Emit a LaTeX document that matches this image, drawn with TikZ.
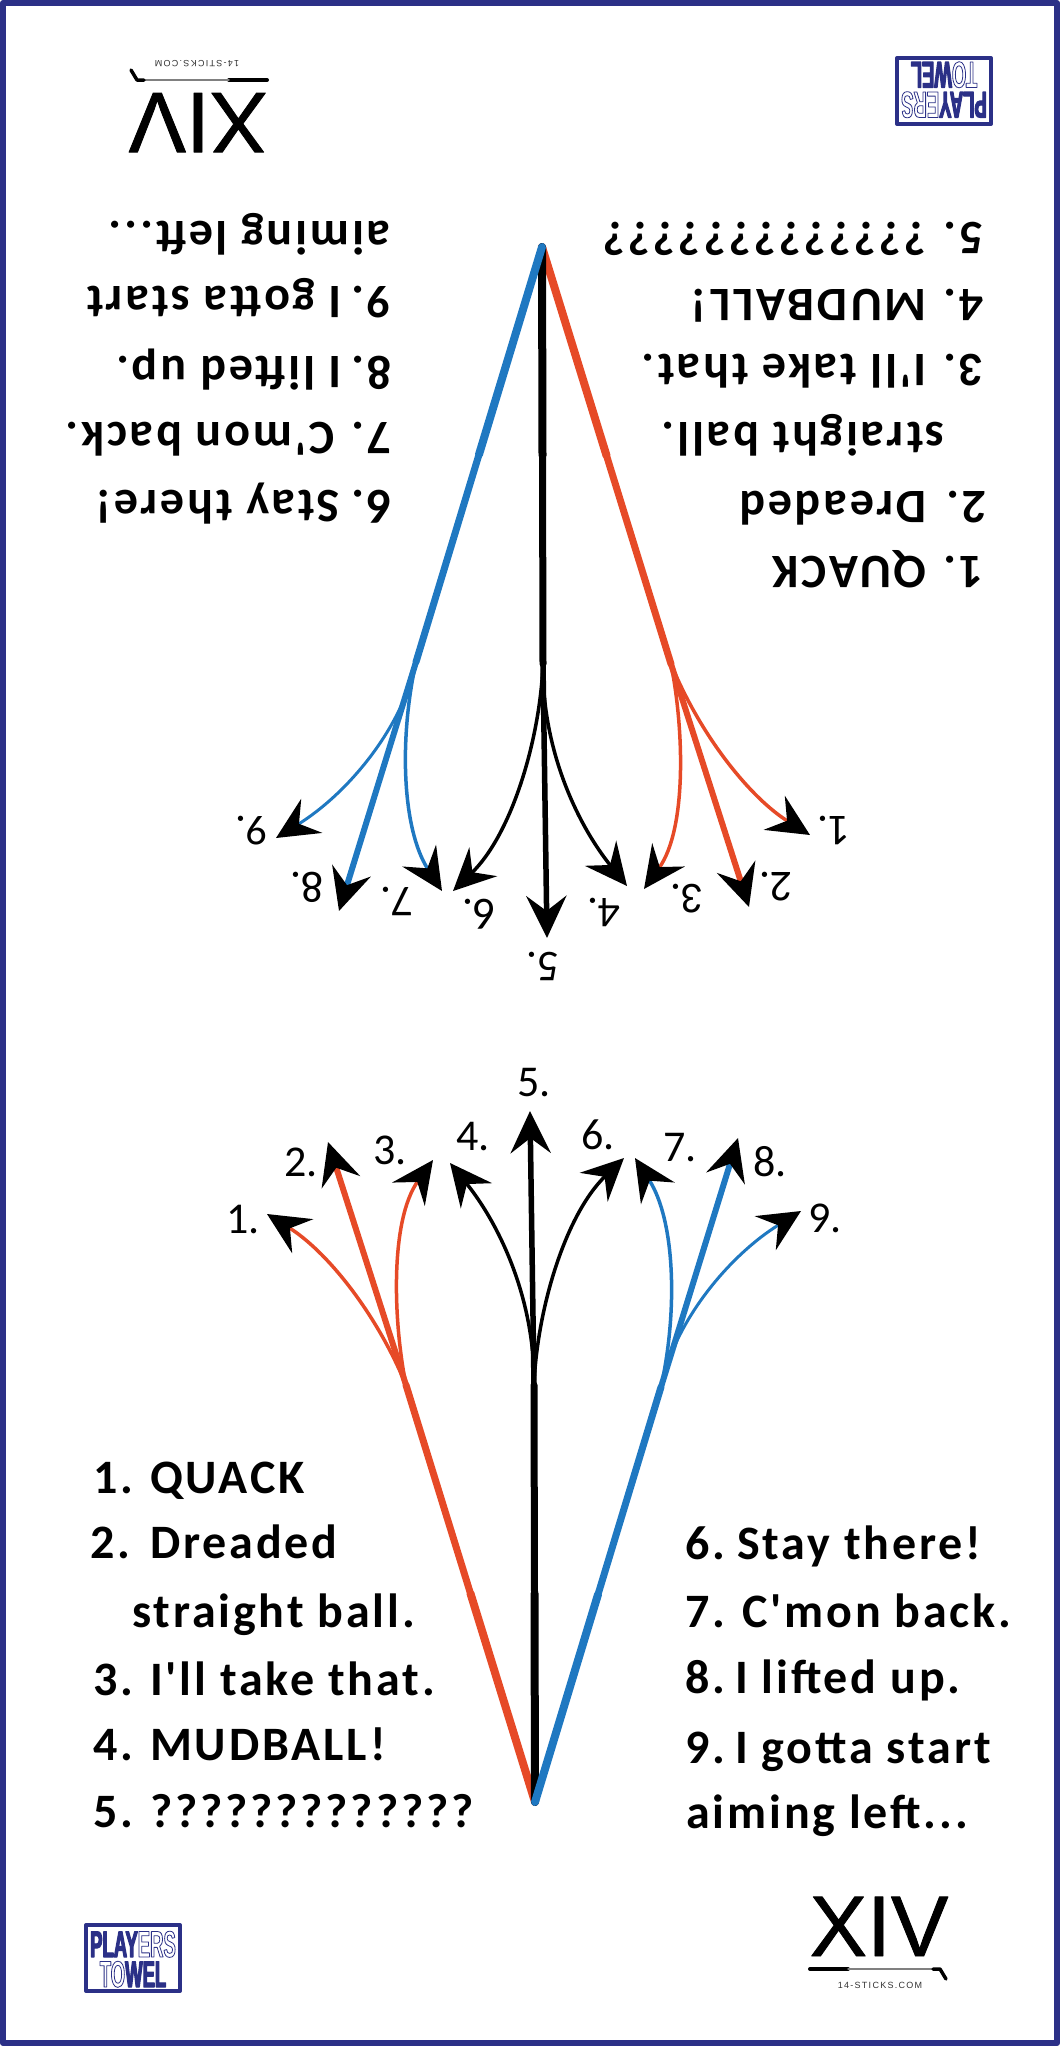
\documentclass[tikz,border=0pt]{standalone}
\usepackage{fontspec}
\usetikzlibrary{arrows.meta,calc}
\setmainfont{Carlito}
\newfontfamily\listfont[LetterSpace=6]{Carlito}
\newfontfamily\xivfont{Liberation Sans}
\newfontfamily\xivbold[FakeBold=1]{Liberation Sans}
\newfontfamily\towelfont[FakeStretch=0.5,FakeBold=3]{Liberation Sans Bold}
\newfontfamily\hollowfont[FakeStretch=0.5]{Liberation Sans Bold}
\definecolor{framecol}{HTML}{2B3087}
\definecolor{redcol}{HTML}{E64A27}
\definecolor{bluecol}{HTML}{1F78C1}
\newcommand{\hollow}[1]{{\hollowfont\special{pdf:code 1 Tr 0.8 w 0.169 0.188 0.529 RG}#1\special{pdf:code 0 Tr}}}
\tikzset{
	listtext/.style={anchor=base west,inner sep=0pt,font=\fontsize{48}{48}\listfont\bfseries},
	tiplabel/.style={inner sep=0pt,font=\fontsize{44}{44}\selectfont},
	toweltext/.style={inner sep=0pt,text=framecol,anchor=base,font=\fontsize{37}{37}\towelfont},
	shot/.style={-{Stealth[black,length=42pt,width=40pt,inset=15pt]}},
}
\begin{document}
\begin{tikzpicture}[x=1pt,y=-1pt,>=stealth,line join=round,line cap=round,every node/.style={transform shape}]
	\useasboundingbox (0,0) rectangle (1060,2046);
	\draw[framecol,line width=6pt] (3,3) rectangle (1057,2043);
	\foreach \side/\turn in {b/0,t/180}{
	\begin{scope}[rotate around={\turn:(538.5,1024.5)},name prefix=\side-]
		\coordinate (apex) at (535,1802);
		\coordinate (forkR) at (406,1385);
		\coordinate (forkK) at (534,1385);
		\coordinate (forkB) at (661,1387);
		\coordinate (midR) at ($(apex)!0.5!(forkR)$);
		\coordinate (midK) at ($(apex)!0.5!(forkK)$);
		\coordinate (midB) at ($(apex)!0.5!(forkB)$);
		% arrow ends, numbered as in the list
		\foreach \n/\px/\py in {1/267/1214,2/328/1142,3/433/1160,4/450/1163,5/530/1111,6/624/1158,7/635/1158,8/738/1138,9/801/1211}
			\coordinate (tip\n) at (\px,\py);
		% red shots
		\draw[redcol,line width=8pt] (apex) -- (midR);
		\draw[redcol,line width=7pt] (midR) -- (forkR);
		\draw[redcol,line width=6pt,shot] (forkR) -- (tip2);
		\draw[redcol,line width=3.5pt,shot] (forkR) .. controls (375,1310) and (325,1250) .. (tip1);
		\draw[redcol,line width=3.5pt,shot] (forkR) .. controls (393,1320) and (390,1220) .. (tip3);
		% black shots
		\draw[line width=8pt] (apex) -- (midK);
		\draw[line width=7pt] (midK) -- (forkK);
		\draw[line width=5.5pt,shot] (forkK) -- (tip5);
		\draw[line width=3.5pt,shot] (forkK) .. controls (535,1300) and (500,1225) .. (tip4);
		\draw[line width=3.5pt,shot] (forkK) .. controls (537,1310) and (565,1215) .. (tip6);
		% blue shots
		\draw[bluecol,line width=8pt] (apex) -- (midB);
		\draw[bluecol,line width=7pt] (midB) -- (forkB);
		\draw[bluecol,line width=6pt,shot] (forkB) -- (tip8);
		\draw[bluecol,line width=3.5pt,shot] (forkB) .. controls (678,1310) and (675,1220) .. (tip7);
		\draw[bluecol,line width=3pt,shot] (forkB) .. controls (675,1320) and (730,1255) .. (tip9);
		% numbers at the arrows
		\foreach \n/\px/\py in {1/243/1219,2/301/1162,3/390/1150,4/473/1137,5/534/1083,6/598/1135,7/680/1148,8/770/1162,9/825/1218}
			\node[tiplabel] (lab\n) at (\px,\py) {\n.};
		% left list
		\node[listtext] (n1) at (93,1493) {1.};
		\node[listtext] (t1) at (150,1493) {QUACK};
		\node[listtext] (n2) at (90,1558) {2.};
		\node[listtext] (t2) at (150,1558) {Dreaded};
		\node[listtext] (t2b) at (132,1627) {straight ball.};
		\node[listtext] (n3) at (93,1695) {3.};
		\node[listtext] (t3) at (150,1695) {I'll take that.};
		\node[listtext] (n4) at (93,1760) {4.};
		\node[listtext] (t4) at (150,1760) {MUDBALL!};
		\node[listtext] (n5) at (93,1827) {5.};
		\node[listtext] (t5) at (150,1827) {?????????????};
		% right list
		\node[listtext] (n6) at (685,1559) {6.};
		\node[listtext] (t6) at (737,1559) {Stay there!};
		\node[listtext] (n7) at (685,1627) {7.};
		\node[listtext] (t7) at (742,1627) {C'mon back.};
		\node[listtext] (n8) at (685,1693) {8.};
		\node[listtext] (t8) at (735,1693) {I lifted up.};
		\node[listtext] (n9) at (685,1763) {9.};
		\node[listtext] (t9) at (735,1763) {I gotta start};
		\node[listtext] (t9b) at (686,1828) {aiming left...};
		% players towel mark
		\node[draw=framecol,fill=white,line width=4pt,minimum width=94pt,minimum height=66pt,inner sep=0pt] (towel) at (133,1958) {};
		\node[toweltext] (play) at (133,1957) {PLAY\hollow{ERS}};
		\node[toweltext] (wel) at (133,1987) {\hollow{TO}WEL};
		% fourteen sticks mark
		\node[inner sep=0pt,anchor=base,font=\fontsize{86}{86}\xivbold] (xiv) at (879,1956) {XIV};
		\coordinate (gripL) at (810,1969);
		\coordinate (gripR) at (848,1969);
		\coordinate (hoselS) at (933,1969);
		\coordinate (heelS) at (940,1969);
		\coordinate (toeS) at (946,1979);
		\draw[line width=4pt] (gripL) -- (gripR);
		\draw[gray,line width=1.5pt] (gripR) -- (hoselS);
		\draw[line width=3.5pt] (hoselS) -- (heelS) -- (toeS);
		\node[inner sep=0pt,text=black!80,font=\fontsize{9}{9}\xivfont\addfontfeature{LetterSpace=14}] (site) at (880,1985) {14-STICKS.COM};
	\end{scope}
	}
\end{tikzpicture}
\end{document}
